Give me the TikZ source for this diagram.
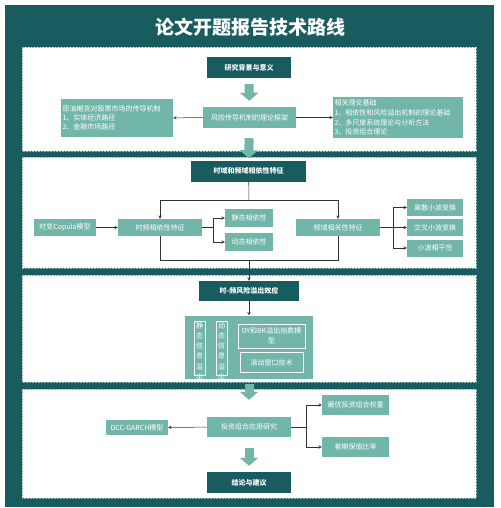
\documentclass[tikz,border=0pt]{standalone}
\usepackage{fontspec}
\setmainfont{Noto Sans CJK SC}
\usepackage{tikz}
\usetikzlibrary{positioning,arrows.meta}
\definecolor{dk}{HTML}{185C60}
\definecolor{lt}{HTML}{72B5A9}

\begin{document}
\begin{tikzpicture}[x=1pt,y=-1pt,
  every node/.style={font=\fontsize{7}{9}\selectfont, text=white, inner sep=1pt},
  dbox/.style={fill=dk, minimum width=84pt, minimum height=21pt, font=\fontsize{7}{9}\selectfont\bfseries},
  lbox/.style={fill=lt, minimum height=17pt},
  wbox/.style={draw=white, line width=0.5pt},
  fat/.style={draw=lt, line width=9pt, -{Triangle[width=18pt,length=8pt]}},
  con/.style={draw=black!80, line width=0.5pt},
  panel/.style={fill=white, draw=dk!45, dash pattern=on 2pt off 1pt, line width=0.6pt}]

  \useasboundingbox (0,0) rectangle (500,508);
  \fill[white] (0,0) rectangle (500,508);
  \fill[dk] (5,5) rectangle (494,507);
  \node[font=\fontsize{19}{19}\selectfont\bfseries] (t) at (250,27) {论文开题报告技术路线};

  %panels
  \draw[panel] (22,47) rectangle (476,151);
  \draw[panel] (22,157) rectangle (476,268);
  \draw[panel] (22,275) rectangle (476,382);
  \draw[panel] (22,389) rectangle (476,498);

  %panel 1
  \node[dbox] (bg) at (249,67.5) {研究背景与意义};
  \node[lbox, minimum width=93pt, minimum height=21pt] (kj) at (249.5,117.5) {风险传导机制的理论框架};
  \node[lbox, minimum width=112pt, minimum height=38pt, text width=109pt, align=left,
        font=\fontsize{7}{9.2}\selectfont] (lj) at (117,118)
        {原油期货对股票市场的传导机制\\1、实体经济路径\\2、金融市场路径};
  \node[lbox, minimum width=130pt, minimum height=41pt, text width=127pt, align=left,
        font=\fontsize{7}{9.7}\selectfont] (ll) at (398,117.5)
        {相关理论基础\\1、相依性和风险溢出机制的理论基础\\2、多尺度系统理论与分析方法\\3、投资组合理论};

  %bg>kj
  \draw[fat, shorten <=6pt, shorten >=6pt] (bg) -- (kj);
  \draw[con,-stealth] (kj) -- (lj);
  \draw[con,-stealth] (kj) -- (ll);

  %panel 2
  \node[dbox, minimum width=115pt] (sy) at (248.5,171) {时域和频域相依性特征};
  \node[lbox, minimum width=62pt] (cop) at (65,227.5) {时变Copula模型};
  \node[lbox, minimum width=84pt] (sp) at (160,227.5) {时频相依性特征};
  \node[lbox, minimum width=48pt, minimum height=18pt] (jt) at (249,218) {静态相依性};
  \node[lbox, minimum width=48pt, minimum height=18pt] (dt) at (249,242) {动态相依性};
  \node[lbox, minimum width=84pt] (pl) at (338,227.5) {频域相关性特征};
  \node[lbox, minimum width=56pt] (lx) at (435,207.5) {离散小波变换};
  \node[lbox, minimum width=56pt] (jc) at (435,227.5) {交叉小波变换};
  \node[lbox, minimum width=56pt] (xb) at (435,248) {小波相干性};

  %kj>sy
  \draw[fat, shorten <=10pt, shorten >=2pt] (kj) -- (sy);

  %sy>sp,pl
  \coordinate (m1) at (249,200);
  \draw[con] (sy) -- (m1);
  \draw[con,-stealth] (m1) -| (sp);
  \draw[con,-stealth] (m1) -| (pl);
  \draw[con,-stealth] (cop) -- (sp);

  %sp>jt,dt
  \coordinate (b1) at (213,227.5);
  \draw[con] (sp) -- (b1);
  \draw[con,-stealth] (b1) |- (jt);
  \draw[con,-stealth] (b1) |- (dt);

  %pl>lx,jc,xb
  \coordinate (b2) at (393,227.5);
  \draw[con] (pl) -- (b2);
  \draw[con,-stealth] (b2) |- (lx);
  \draw[con,-stealth] (b2) -- (jc);
  \draw[con,-stealth] (b2) |- (xb);

  %panel 3
  \node[dbox, minimum width=100pt, minimum height=20pt] (yc) at (249,291) {时-频风险溢出效应};
  \node[fill=lt, minimum width=128pt, minimum height=63pt] (big) at (249,347) {};
  \node[wbox, minimum width=11pt, minimum height=54pt] (v1) at (199.5,348) {};
  \node[wbox, minimum width=11pt, minimum height=54pt] (v2) at (221.5,348) {};
  \node[below=1.5pt of v1.north, anchor=north, inner sep=0pt, align=center,
        font=\fontsize{7}{10.2}\selectfont] (v1t) {静\\态\\信\\息\\溢\\出};
  \node[below=1.5pt of v2.north, anchor=north, inner sep=0pt, align=center,
        font=\fontsize{7}{10.2}\selectfont] (v2t) {动\\态\\信\\息\\溢\\出};
  \node[wbox, minimum width=67pt, minimum height=24pt, align=center,
        font=\fontsize{7}{10}\selectfont] (dy) at (271.5,336) {DY和BK溢出指数模\\型};
  \node[wbox, minimum width=63pt, minimum height=20pt] (gd) at (271.5,362.5) {滚动窗口技术};

  %sp,pl>yc
  \coordinate (m2) at (249,260);
  \draw[con] (sp) |- (m2);
  \draw[con] (pl) |- (m2);
  \draw[con,-stealth] (m2) -- (yc);
  \draw[con,-stealth] (yc) -- (big);

  %panel 4
  \node[lbox, minimum width=84pt, minimum height=20pt] (tz) at (249,427) {投资组合应用研究};
  \node[lbox, minimum width=62pt, minimum height=15pt] (dcc) at (137,427.5) {DCC-GARCH模型};
  \node[lbox, minimum width=67pt, minimum height=20pt] (zy) at (355.5,405) {最优投资组合权重};
  \node[lbox, minimum width=67pt, minimum height=20pt] (tq) at (355.5,447) {套期保值比率};
  \node[dbox, minimum height=21pt] (jl) at (249,482.5) {结论与建议};

  %big>tz
  \draw[fat, shorten <=5pt, shorten >=17pt] (big) -- (tz);
  %tz>jl
  \draw[fat, shorten <=11pt, shorten >=6pt] (tz) -- (jl);

  %tz>dcc,zy,tq
  \draw[con,-stealth] (tz) -- (dcc);
  \coordinate (b3) at (306,427);
  \draw[con] (tz) -- (b3);
  \draw[con,-stealth] (b3) |- (zy);
  \draw[con,-stealth] (b3) |- (tq);
\end{tikzpicture}
\end{document}
